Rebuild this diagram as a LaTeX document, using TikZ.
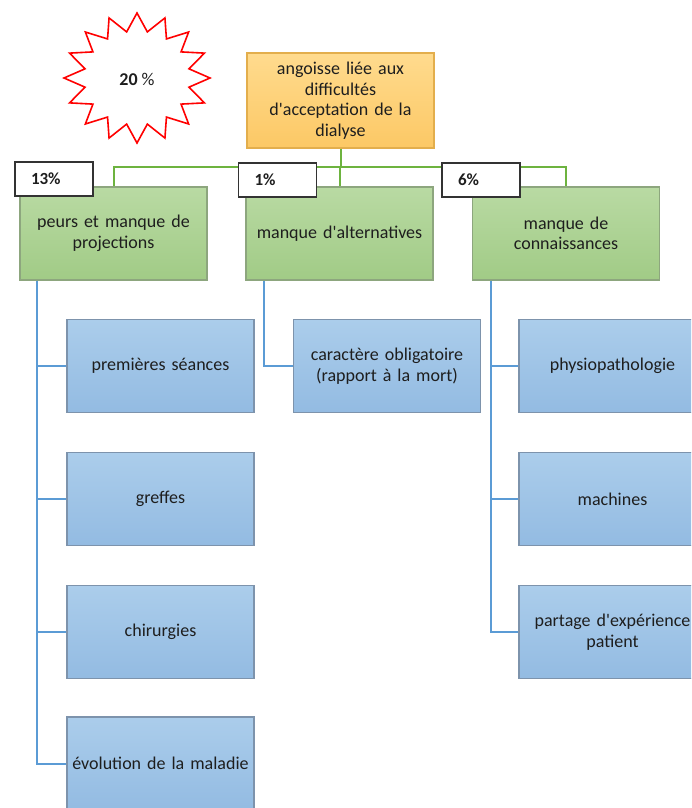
\documentclass[tikz,border=0pt]{standalone}
\usepackage{fontspec}
\setmainfont{Carlito}
\newcommand{\apos}{\textquotesingle}
\definecolor{gT}{HTML}{B9DAA3}
\definecolor{gB}{HTML}{A1CB86}
\definecolor{gD}{HTML}{8DA67E}
\definecolor{bT}{HTML}{ABCDEB}
\definecolor{bB}{HTML}{93BBE2}
\definecolor{bD}{HTML}{7D93AC}
\definecolor{oT}{HTML}{FFDB8E}
\definecolor{oB}{HTML}{FCC865}
\definecolor{oD}{HTML}{E3AE4C}
\definecolor{gline}{HTML}{6DB33F}
\definecolor{bline}{HTML}{5B9BD5}
\definecolor{txt}{HTML}{1E1E1E}
\tikzset{
  card/.style={minimum width=187pt, minimum height=93pt, inner sep=2pt,
    align=center, text width=183pt, text=txt, line width=1.1pt,
    font=\fontsize{18}{20.5}\selectfont},
  greenbox/.style={card, draw=gD, top color=gT, bottom color=gB},
  bluebox/.style={card, draw=bD, top color=bT, bottom color=bB},
  orangebox/.style={card, draw=oD, top color=oT, bottom color=oB},
  pctbox/.style={draw=black!80, fill=white, line width=1.1pt, minimum width=78pt,
    minimum height=34pt, inner xsep=16pt, text width=46pt, align=left,
    font=\bfseries\fontsize{17}{19}\selectfont, text=txt},
  glink/.style={draw=gline, line width=2pt},
  blink/.style={draw=bline, line width=2pt},
}
\begin{document}
\begin{tikzpicture}[x=1pt,y=-1pt]
\useasboundingbox (0,0) rectangle (691,808);
\clip (0,0) rectangle (691,808);
\fill[white] (0,0) rectangle (691,808);
% star
\draw[red, line width=1.6pt, fill=white, line join=miter] (137,13)
  \foreach \i in {0,...,15}{
    -- ({137+53*cos(101.25+22.5*\i)},{78-47*sin(101.25+22.5*\i)})
    -- ({137+73*cos(112.5+22.5*\i)},{78-65*sin(112.5+22.5*\i)})
  } -- cycle;
\node[font=\fontsize{18}{20}\selectfont, text=txt] (star) at (137,79) {\textbf{20} \%};
% top
\node[orangebox, minimum height=95pt] (top) at (340.5,100.5)
  {angoisse liée aux\\difficultés\\d\apos acceptation de la\\dialyse};
% green
\node[greenbox] (g1) at (113.5,233.5) {peurs et manque de\\projections};
\node[greenbox] (g2) at (339.5,233.5) {manque d\apos alternatives};
\node[greenbox] (g3) at (566,233.5) {manque de\\connaissances};
% blue
\node[bluebox] (b1) at (160.5,366) {premières séances};
\node[bluebox] (b2) at (160.5,499) {greffes};
\node[bluebox] (b3) at (160.5,632) {chirurgies};
\node[bluebox] (b4) at (160.5,763.5) {évolution de la maladie};
\node[bluebox] (m1) at (387,366) {caractère obligatoire\\(rapport à la mort)};
\node[bluebox] (r1) at (612.5,366) {physiopathologie};
\node[bluebox] (r2) at (612.5,499) {machines};
\node[bluebox] (r3) at (612.5,632) {partage d\apos expérience\\patient};
% green connectors
\coordinate (bus) at (340.5,167);
\draw[glink] (top.south) -- (bus);
\draw[glink] (g1.north) |- (bus);
\draw[glink] (g3.north) |- (bus);
\draw[glink] (g2.north) -- (g2.north |- bus);
% blue connectors
\coordinate (t1) at ([xshift=18pt]g1.south west);
\coordinate (t2) at ([xshift=19pt]g2.south west);
\coordinate (t3) at ([xshift=19.5pt]g3.south west);
\foreach \n in {b1,b2,b3,b4}{\draw[blink] (t1) |- (\n.west);}
\draw[blink] (t2) |- (m1.west);
\foreach \n in {r1,r2,r3}{\draw[blink] (t3) |- (\n.west);}
% percentage boxes
\node[pctbox] (p1) at (54,179) {13\%};
\node[pctbox] (p2) at (277.5,180) {1\%};
\node[pctbox] (p3) at (481,180) {6\%};
\end{tikzpicture}
\end{document}
